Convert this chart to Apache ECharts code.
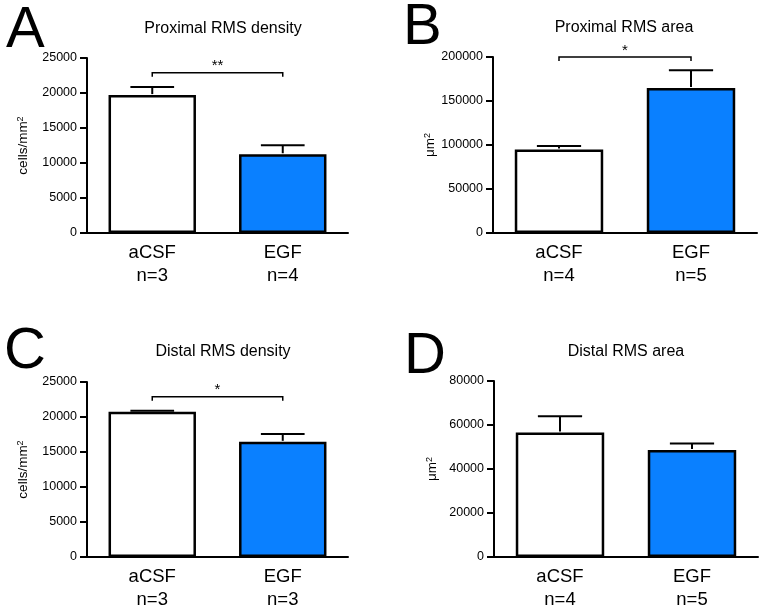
<!DOCTYPE html>
<html>
<head>
<meta charset="utf-8">
<script src="https://cdn.jsdelivr.net/npm/echarts@6/dist/echarts.min.js"></script>
<style>html,body{margin:0;padding:0;background:#fff}#c{width:764px;height:610px}</style>
</head>
<body>
<div id="c"></div>
<script>
// ---- data ----
const categories = ['aCSF', 'EGF'];
const nA = ['n=3', 'n=4'];
const nB = ['n=4', 'n=5'];
const nC = ['n=3', 'n=3'];
const nD = ['n=4', 'n=5'];

const proxDensityMean = [19700, 11250];
const proxDensitySem = [1150, 1280];
const proxAreaMean = [94800, 164800];
const proxAreaSem = [4100, 20100];
const distDensityMean = [20750, 16450];
const distDensitySem = [150, 1130];
const distAreaMean = [56600, 48600];
const distAreaSem = [7400, 3000];

const titles = ['Proximal RMS density', 'Proximal RMS area', 'Distal RMS density', 'Distal RMS area'];
const panelLetters = ['A', 'B', 'C', 'D'];
const yNames = ['cells/mm{sup|2}', 'μm{sup|2}', 'cells/mm{sup|2}', 'μm{sup|2}'];
const yMax = [25000, 200000, 25000, 80000];
const yInterval = [5000, 50000, 5000, 20000];
// significance: [y level, label]
const sigA = [22900, '**'];
const sigB = [200000, '*'];
const sigC = [22900, '*'];

// ---- chart ----
const FONT = 'Liberation Sans, Arial, Helvetica, sans-serif';
const barColors = ['#ffffff', '#0a80ff'];
const grids = [
  {left: 87, top: 58, width: 261, height: 175},
  {left: 493, top: 57, width: 264, height: 176},
  {left: 87, top: 382, width: 261, height: 175},
  {left: 494, top: 381, width: 264, height: 176}
];
const means = [proxDensityMean, proxAreaMean, distDensityMean, distAreaMean];
const sems = [proxDensitySem, proxAreaSem, distDensitySem, distAreaSem];
const ns = [nA, nB, nC, nD];
const sigs = [sigA, sigB, sigC, null];

const option = {
  animation: false,
  backgroundColor: '#fff',
  textStyle: {fontFamily: FONT},
  grid: grids.map(g => Object.assign({containLabel: false, outerBoundsMode: 'none'}, g)),
  xAxis: grids.map((g, i) => ({
    type: 'category', gridIndex: i,
    data: categories.map((c, k) => c + '\n' + ns[i][k]),
    axisLine: {lineStyle: {color: '#000', width: 2}},
    axisTick: {alignWithLabel: true, length: 5, lineStyle: {color: '#000', width: 2}},
    axisLabel: {color: '#000', fontSize: 18.5, lineHeight: 23, margin: 8, fontFamily: FONT},
    splitLine: {show: false}
  })),
  yAxis: grids.map((g, i) => ({
    type: 'value', gridIndex: i, min: 0, max: yMax[i], interval: yInterval[i],
    name: yNames[i], nameLocation: 'middle', nameGap: i % 2 === 0 ? 56 : 54, nameRotate: 90,
    nameTextStyle: {color: '#000', fontSize: 13.5, fontFamily: FONT,
      rich: {sup: {fontSize: 9, verticalAlign: 'top', color: '#000', fontFamily: FONT, padding: [0, 0, 6, 0]}}},
    axisLine: {show: true, lineStyle: {color: '#000', width: 2}},
    axisTick: {show: true, length: 7, lineStyle: {color: '#000', width: 2}},
    axisLabel: {color: '#000', fontSize: 12.5, margin: 10, fontFamily: FONT, formatter: v => String(v)},
    splitLine: {show: false}
  })),
  series: []
};

grids.forEach((g, i) => {
  option.series.push({
    type: 'bar', xAxisIndex: i, yAxisIndex: i, barWidth: '67%',
    data: means[i].map((v, k) => ({value: v, itemStyle: {color: barColors[k]}})),
    itemStyle: {borderColor: '#000', borderWidth: 2.5},
    z: 2
  });
  option.series.push({
    type: 'custom', xAxisIndex: i, yAxisIndex: i, z: 3,
    data: means[i].map((v, k) => [k, v, v + sems[i][k]]),
    encode: {x: 0, y: [1, 2]},
    renderItem: function (params, api) {
      const p0 = api.coord([api.value(0), api.value(1)]);
      const p1 = api.coord([api.value(0), api.value(2)]);
      const half = api.size([1, 0])[0] * 0.67 / 4;
      const st = {stroke: '#000', lineWidth: 2, fill: null};
      return {type: 'group', children: [
        {type: 'line', shape: {x1: p0[0], y1: p0[1] - 1, x2: p1[0], y2: p1[1]}, style: st},
        {type: 'line', shape: {x1: p1[0] - half, y1: p1[1], x2: p1[0] + half, y2: p1[1]}, style: st}
      ]};
    }
  });
  if (sigs[i]) {
    option.series.push({
      type: 'custom', xAxisIndex: i, yAxisIndex: i, z: 3, clip: false,
      data: [[0, 1, sigs[i][0]]],
      encode: {x: [0, 1], y: 2},
      renderItem: function (params, api) {
        const a = api.coord([api.value(0), api.value(2)]);
        const b = api.coord([api.value(1), api.value(2)]);
        const st = {stroke: '#000', lineWidth: 1.5, fill: null};
        return {type: 'group', children: [
          {type: 'polyline', shape: {points: [[a[0], a[1] + 4], [a[0], a[1]], [b[0], b[1]], [b[0], b[1] + 4]]}, style: st},
          {type: 'text', x: (a[0] + b[0]) / 2, y: a[1] + 1,
            style: {text: sigs[i][1], fill: '#000', font: '15px ' + FONT, align: 'center', verticalAlign: 'bottom'}}
        ]};
      }
    });
  }
});

const titlePos = [[223, 29], [624, 28], [223, 352], [626, 352]];
const letterPos = [[6, 31], [403, 28], [4, 352], [404, 357]];
option.graphic = [];
titles.forEach((t, i) => {
  option.graphic.push({type: 'text', x: titlePos[i][0], y: titlePos[i][1],
    style: {text: t, fill: '#000', font: '16px ' + FONT, align: 'center', verticalAlign: 'middle'}});
  option.graphic.push({type: 'text', x: letterPos[i][0], y: letterPos[i][1],
    style: {text: panelLetters[i], fill: '#000', font: '58px ' + FONT, align: 'left', verticalAlign: 'middle'}});
});

const chart = echarts.init(document.getElementById('c'), null, {renderer: 'canvas'});
chart.setOption(option);
</script>
</body>
</html>
